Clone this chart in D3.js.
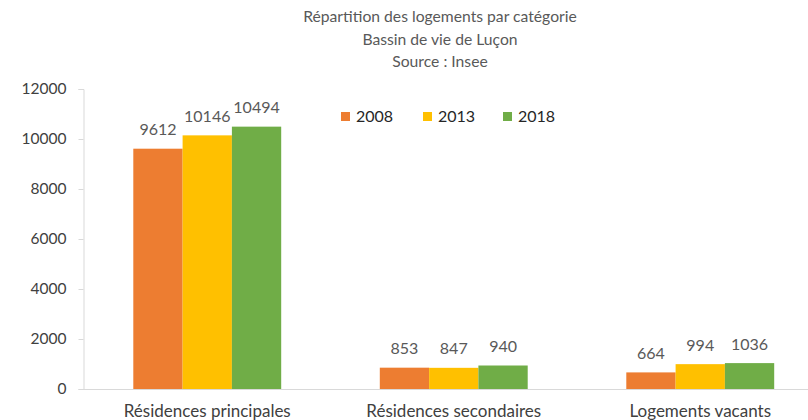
<!DOCTYPE html>
<html>
<head>
<meta charset="utf-8">
<script src="https://cdn.jsdelivr.net/npm/d3@7"></script>
<style>
  body { margin: 0; background: #fff; }
  svg text { font-family: Lato, "Open Sans", sans-serif; }
</style>
</head>
<body>
<svg class="chart"></svg>
<script>
var categories = ["Résidences principales", "Résidences secondaires", "Logements vacants"];
var years = ["2008", "2013", "2018"];
var values2008 = [9612, 853, 664];
var values2013 = [10146, 847, 994];
var values2018 = [10494, 940, 1036];
var yTicks = [0, 2000, 4000, 6000, 8000, 10000, 12000];
var titleLines = ["Répartition des logements par catégorie", "Bassin de vie de Luçon", "Source : Insee"];

var colors = ["#ED7D31", "#FFC000", "#70AD47"];
var series = [values2008, values2013, values2018];

var width = 808, height = 420;
var svg = d3.select(".chart").attr("width", width).attr("height", height);

var x = d3.scaleBand().domain(categories).range([84, 823.5]).paddingInner(0.4).paddingOuter(0.2);
var xSub = d3.scaleBand().domain(years).range([0, x.bandwidth()]);
var y = d3.scaleLinear().domain([0, 12000]).range([389, 89]);

// title
svg.selectAll(".title")
   .data(titleLines)
   .enter().append("text")
   .attr("x", 440)
   .attr("y", function(d, i) { return 17 + i * 22.5; })
   .attr("dy", "0.35em")
   .style("text-anchor", "middle")
   .style("font-size", "15.7px")
   .style("fill", "#595959")
   .text(function(d) { return d; });

// y axis
var yAxis = svg.append("g")
   .attr("transform", "translate(83.5,0)")
   .call(d3.axisLeft(y).tickValues(yTicks).tickSize(5).tickPadding(12).tickFormat(d3.format("d")));
yAxis.select(".domain").attr("stroke", "#d9d9d9");
yAxis.selectAll(".tick line").attr("stroke", "#d9d9d9");
yAxis.selectAll(".tick text").style("font-size", "15.5px").style("fill", "#404040").style("font-family", "Lato, sans-serif");

// bars
series.forEach(function(vals, s) {
  svg.selectAll(".bar" + s)
     .data(vals)
     .enter().append("rect")
     .attr("x", function(d, i) { return x(categories[i]) + xSub(years[s]); })
     .attr("y", function(d) { return y(d); })
     .attr("width", xSub.bandwidth())
     .attr("height", function(d) { return y(0) - y(d); })
     .style("fill", colors[s]);

  svg.selectAll(".label" + s)
     .data(vals)
     .enter().append("text")
     .attr("x", function(d, i) { return x(categories[i]) + xSub(years[s]) + xSub.bandwidth() / 2; })
     .attr("y", function(d) { return y(d) - 19; })
     .attr("dy", "0.35em")
     .style("text-anchor", "middle")
     .style("font-size", "16px")
     .style("fill", "#595959")
     .text(function(d) { return d; });
});

// x axis line
svg.append("line")
   .attr("x1", 83).attr("x2", width)
   .attr("y1", y(0) + 0.5).attr("y2", y(0) + 0.5)
   .attr("stroke", "#d9d9d9");

// category labels
svg.selectAll(".cat")
   .data(categories)
   .enter().append("text")
   .attr("x", function(d) { return x(d) + x.bandwidth() / 2; })
   .attr("y", 411)
   .attr("dy", "0.35em")
   .style("text-anchor", "middle")
   .style("font-size", "17px")
   .style("fill", "#404040")
   .text(function(d) { return d; });

// legend
var legendX = [341, 423, 503];
var legend = svg.selectAll(".legend")
   .data(years)
   .enter().append("g")
   .attr("transform", function(d, i) { return "translate(" + legendX[i] + ",112)"; });
legend.append("rect")
   .attr("width", 9).attr("height", 9)
   .style("fill", function(d, i) { return colors[i]; });
legend.append("text")
   .attr("x", 15).attr("y", 4.5)
   .attr("dy", "0.35em")
   .style("font-size", "16px")
   .style("fill", "#262626")
   .text(function(d) { return d; });
</script>
</body>
</html>
